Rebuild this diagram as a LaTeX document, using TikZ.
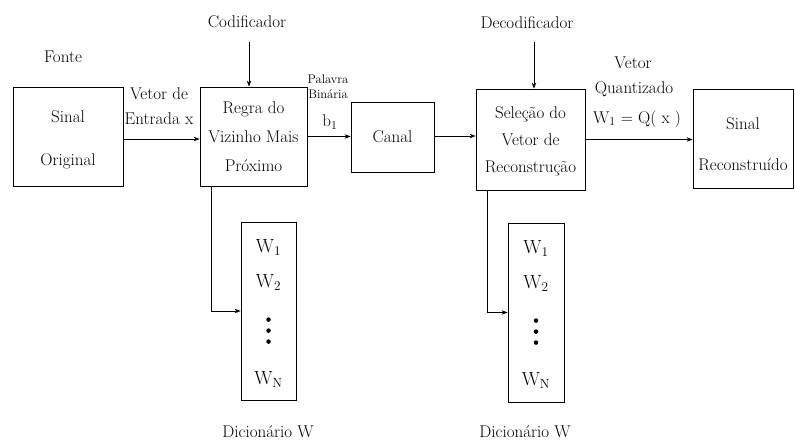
\documentclass[tikz,border=0pt]{standalone}
\usepackage{fontspec}
\usetikzlibrary{arrows.meta}
\begin{document}
\begin{tikzpicture}[x=1pt,y=-1pt,
  box/.style={draw,line width=0.8pt,inner sep=0pt},
  txt/.style={font=\fontsize{17}{17}\selectfont,inner sep=0pt},
  big/.style={font=\fontsize{19}{19}\selectfont,inner sep=0pt},
  small/.style={font=\fontsize{12.5}{15}\selectfont,inner sep=0pt,align=center},
  arr/.style={draw,line width=0.8pt,-{Stealth[length=6pt,width=4.5pt]}},
  dot/.style={circle,fill,inner sep=0pt,minimum size=4.5pt}]
\useasboundingbox (0,0) rectangle (795,442);

% main boxes
\node[box,minimum width=110pt,minimum height=99pt,
  label={[txt,align=center,font=\fontsize{17}{43}\selectfont,yshift=-3pt]center:Sinal\\Original}] (orig) at (68,136.5) {};
\node[box,minimum width=107pt,minimum height=99pt,
  label={[txt,align=center,font=\fontsize{17}{29}\selectfont,yshift=0pt]center:Regra do\\Vizinho Mais\\Próximo}] (regra) at (253.5,136.5) {};
\node[box,minimum width=83pt,minimum height=70pt,
  label={[txt]center:Canal}] (canal) at (392.5,137) {};
\node[box,minimum width=109pt,minimum height=101pt,
  label={[txt,align=center,font=\fontsize{17}{27}\selectfont,yshift=-2pt]center:Seleção do\\Vetor de\\Reconstrução}] (sel) at (530.5,139.5) {};
\node[box,minimum width=100pt,minimum height=99pt,
  label={[txt,align=center,font=\fontsize{17}{41}\selectfont,yshift=-6pt]center:Sinal\\Reconstruído}] (rec) at (743,138.5) {};

% dictionary boxes
\node[box,minimum width=55pt,minimum height=178pt] (dl) at (268.5,311) {};
\node[box,minimum width=56pt,minimum height=179pt] (dr) at (536,312.5) {};

\foreach \d in {dl,dr}{
  \node[big] (\d w1) at ([yshift=-26pt]\d.north) {W\textsubscript{1}};
  \node[big] (\d w2) at ([yshift=-61pt]\d.north) {W\textsubscript{2}};
  \node[dot] (\d p1) at ([yshift=-98pt]\d.north) {};
  \node[dot] (\d p2) at ([yshift=-109pt]\d.north) {};
  \node[dot] (\d p3) at ([yshift=-120pt]\d.north) {};
  \node[big] (\d wn) at ([yshift=-158pt]\d.north) {W\textsubscript{N}};
}

% labels
\node[txt] (fonte) at (63,57) {Fonte};
\node[txt] (cod) at (247,22) {Codificador};
\node[txt] (dec) at (527,23) {Decodificador};
\node[txt,align=center,font=\fontsize{17}{25}\selectfont] (vin) at (159,106) {Vetor de\\Entrada x};
\node[small] (pal) at (328,87) {Palavra\\Binária};
\node[txt] (b1) at (330,122) {b\textsubscript{1}};
\node[txt] (vq1) at (633,63) {Vetor};
\node[txt] (vq2) at (634,89) {Quantizado};
\node[txt] (vq3) at (637,119) {W\textsubscript{1} = Q( x )};
\node[txt] (dicl) at (268,432) {Dicionário W};
\node[txt] (dicr) at (525,432) {Dicionário W};

% connectors
\coordinate (codtop) at (249,42);
\coordinate (dectop) at (534,42);
\draw[arr] (codtop) -- (codtop |- regra.north);
\draw[arr] (dectop) -- (dectop |- sel.north);
\draw[arr] ([yshift=-2.5pt]orig.east) -- ([yshift=-2.5pt]orig.east -| regra.west);
\draw[arr] (regra.east) -- (regra.east -| canal.west);
\draw[arr] ([yshift=1pt]canal.east) -- ([yshift=1pt]canal.east -| sel.west);
\draw[arr] (sel.east) -- (sel.east -| rec.west);
\draw[arr] ([xshift=12pt]regra.south west) |- (dl.west);
\draw[arr] ([xshift=12pt]sel.south west) |- (dr.west);
\end{tikzpicture}
\end{document}
